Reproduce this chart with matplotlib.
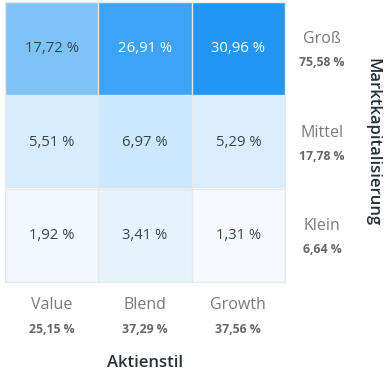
import numpy as np
import matplotlib
matplotlib.use("Agg")
import matplotlib.pyplot as plt
from matplotlib.colors import LinearSegmentedColormap
from matplotlib.transforms import blended_transform_factory

plt.rcParams['font.family'] = ['Open Sans', 'DejaVu Sans']

# style box data
styles = ["Value", "Blend", "Growth"]
style_totals = ["25,15 %", "37,29 %", "37,56 %"]
caps = ["Groß", "Mittel", "Klein"]
cap_totals = ["75,58 %", "17,78 %", "6,64 %"]
values = np.array([
    [17.72, 26.91, 30.96],
    [5.51, 6.97, 5.29],
    [1.92, 3.41, 1.31],
])

fig = plt.figure(figsize=(3.90, 3.89), dpi=100)
ax = fig.add_axes([5 / 390, 1 - 282 / 389, 280 / 390, 280 / 389])

cmap = LinearSegmentedColormap.from_list("blu", ["#ffffff", "#2196f3"])
ax.imshow(values, cmap=cmap, vmin=0, vmax=values.max(), aspect="auto")

# cell borders
for k in np.arange(-0.5, 3.0, 1.0):
    ax.axhline(k, color="#e6e8ea", lw=1.0)
    ax.axvline(k, color="#e6e8ea", lw=1.0)
for s in ax.spines.values():
    s.set_color("#e6e8ea")
ax.set_xticks([])
ax.set_yticks([])

for r in range(3):
    for c in range(3):
        v = values[r, c]
        col = "white" if v / values.max() > 0.7 else "#37474f"
        ax.text(c, r, f"{v:.2f} %".replace(".", ","), ha="center", va="center",
                fontsize=10.7, color=col)

# bottom labels
tb = blended_transform_factory(ax.transData, ax.transAxes)
for i, (name, tot) in enumerate(zip(styles, style_totals)):
    ax.text(i, -0.082, name, transform=tb, ha="center", va="center",
            fontsize=11.5, color="#7a7a7a")
    ax.text(i, -0.168, tot, transform=tb, ha="center", va="center",
            fontsize=8.8, color="#666666", fontweight="bold")
ax.text(1, -0.29, "Aktienstil", transform=tb, ha="center", va="center",
        fontsize=12, color="#263238", fontweight="semibold")

# right labels
tr = blended_transform_factory(ax.transAxes, ax.transData)
for i, (name, tot) in enumerate(zip(caps, cap_totals)):
    ax.text(1.132, i - 0.1, name, transform=tr, ha="center", va="center",
            fontsize=11.5, color="#7a7a7a")
    ax.text(1.132, i + 0.15, tot, transform=tr, ha="center", va="center",
            fontsize=8.8, color="#666666", fontweight="bold")
ax.text(1.311, 0.5, "Marktkapitalisierung", transform=ax.transAxes, rotation=-90,
        ha="center", va="center", fontsize=12, color="#263238", fontweight="semibold")

fig.savefig("out.png", dpi=100)
